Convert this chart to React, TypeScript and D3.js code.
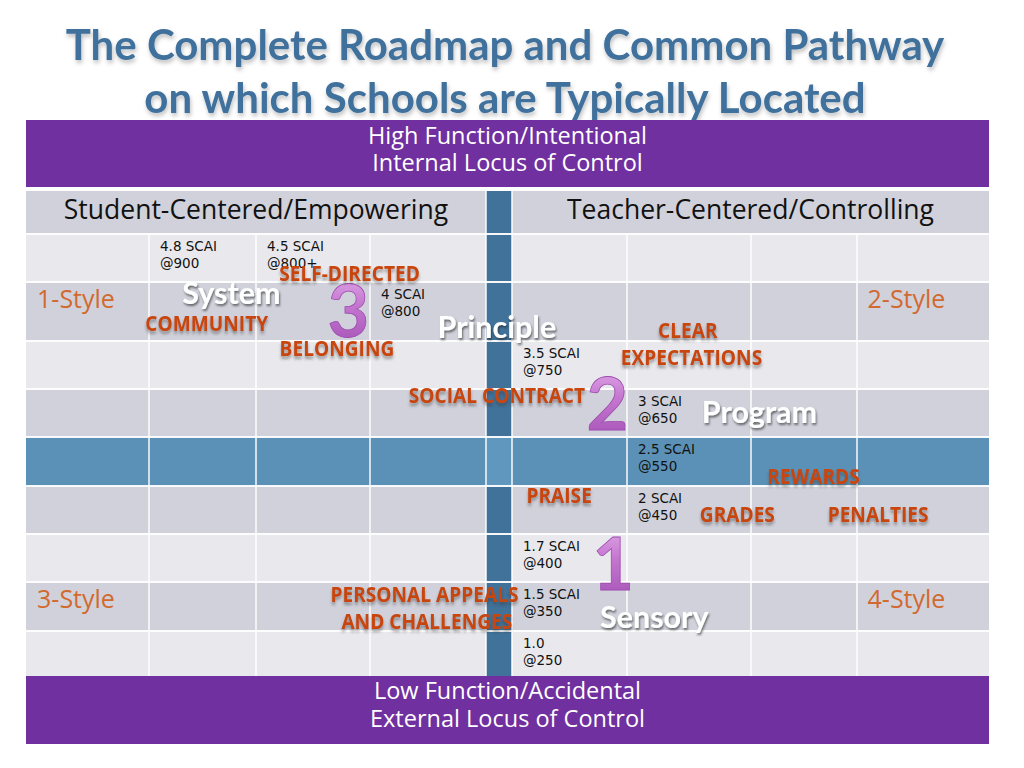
import React from 'react';
import * as d3 from 'd3';

// ---- text content ----
const titleLines = ['The Complete Roadmap and Common Pathway', 'on which Schools are Typically Located'];
const topBand = ['High Function/Intentional', 'Internal Locus of Control'];
const bottomBand = ['Low Function/Accidental', 'External Locus of Control'];
const sideHeaders = ['Student-Centered/Empowering', 'Teacher-Centered/Controlling'];

// row shading, top to bottom
const rowShades = ['light', 'dark', 'light', 'dark', 'blue', 'dark', 'light', 'dark', 'light'];

// SCAI score / target per cell (column, row in grid units)
const scaiScores = ['4.8 SCAI', '4.5 SCAI', '4 SCAI', '3.5 SCAI', '3 SCAI', '2.5 SCAI', '2 SCAI', '1.7 SCAI', '1.5 SCAI', '1.0'];
const scaiTargets = ['@900', '@800+', '@800', '@750', '@650', '@550', '@450', '@400', '@350', '@250'];
const scaiCols = [1, 2, 3, 5, 6, 6, 6, 5, 5, 5];
const scaiRows = [0, 0, 1, 2, 3, 4, 5, 6, 7, 8];

// quadrant styles
const styleNames = ['1-Style', '2-Style', '3-Style', '4-Style'];
const styleCols = [0.09, 8.08, 0.09, 8.08];
const styleRows = [1.29, 1.29, 7.35, 7.35];

// practices (orange words)
const practices = ['SELF-DIRECTED', 'COMMUNITY', 'BELONGING', 'SOCIAL CONTRACT', 'CLEAR', 'EXPECTATIONS',
  'PRAISE', 'REWARDS', 'GRADES', 'PENALTIES', 'PERSONAL APPEALS', 'AND CHALLENGES'];
const practiceCols = [2.82, 1.54, 2.71, 4.42, 6.49, 6.52, 5.41, 7.59, 6.89, 8.16, 3.47, 3.49];
const practiceRows = [0.81, 1.69, 2.15, 3.13, 1.81, 2.33, 5.19, 4.8, 5.58, 5.58, 7.24, 7.8];

// levels (white words)
const levels = ['System', 'Principle', 'Program', 'Sensory'];
const levelCols = [1.77, 4.42, 7.08, 6.22];
const levelRows = [1.19, 1.76, 3.48, 7.71];

// stage numerals
const stages = ['3', '2', '1'];
const stageCols = [2.81, 5.83, 5.88];
const stageRows = [1.49, 3.31, 6.63];

// ---- layout ----
const W = 1024;
const H = 768;
const colEdges = [26, 149, 256, 370, 486, 512, 627, 751, 857, 989];
const rowEdges = [234, 282, 341, 389, 437, 486, 534, 582, 631, 676];
const stripCol = 4;

const x = d3.scaleLinear().domain(d3.range(colEdges.length)).range(colEdges);
const y = d3.scaleLinear().domain(d3.range(rowEdges.length)).range(rowEdges);

const shadeColor: Record<string, string> = { light: '#e9e9ed', dark: '#d0d1da', blue: '#5b91b6' };
const PURPLE = '#7030a0';
const STRIP = '#41729a';
const ORANGE = '#c8450f';

const bodyFont = "'Open Sans', 'DejaVu Sans', sans-serif";
const boldFont = "'Open Sans', sans-serif";
const headFont = "Lato, 'Open Sans', sans-serif";

export default function App() {
  const left = colEdges[0];
  const right = colEdges[colEdges.length - 1];
  const cx = (left + right) / 2;
  const cols = d3.range(colEdges.length - 1);

  return (
    <svg width={W} height={H} style={{ position: 'absolute', left: 0, top: 0, background: '#fff' }}>
      <defs>
        <filter id="titleShadow" x="-5%" y="-20%" width="110%" height="150%">
          <feDropShadow dx="1" dy="3" stdDeviation="2" floodColor="#000" floodOpacity="0.25" />
        </filter>
        <filter id="wordShadow" x="-10%" y="-30%" width="120%" height="180%">
          <feDropShadow dx="0" dy="3" stdDeviation="1.6" floodColor="#333" floodOpacity="0.45" />
        </filter>
        <filter id="whiteShadow" x="-10%" y="-30%" width="120%" height="180%">
          <feDropShadow dx="1" dy="2" stdDeviation="1.2" floodColor="#222" floodOpacity="0.6" />
        </filter>
        <linearGradient id="numGrad" x1="0" y1="0" x2="0" y2="1">
          <stop offset="0%" stopColor="#e6b3ec" />
          <stop offset="45%" stopColor="#c577d0" />
          <stop offset="100%" stopColor="#a24fb4" />
        </linearGradient>
      </defs>

      {/* title */}
      {titleLines.map((t, i) => (
        <text key={t} x={505} y={60 + i * 53} textAnchor="middle" fontFamily={headFont}
          fontWeight="bold" fontSize={42} fill="#41719c" filter="url(#titleShadow)">{t}</text>
      ))}

      {/* top band */}
      <rect x={left} y={120} width={right - left} height={67} fill={PURPLE} />
      {topBand.map((t, i) => (
        <text key={t} x={cx} y={144 + i * 27} textAnchor="middle" fontFamily={bodyFont} fontSize={23.5} fill="#fff">{t}</text>
      ))}

      {/* header row */}
      <rect x={left} y={191} width={right - left} height={rowEdges[0] - 191} fill={shadeColor.dark} />
      <rect x={x(stripCol)} y={191} width={x(stripCol + 1) - x(stripCol)} height={rowEdges[0] - 191} fill={STRIP} />
      <text x={(left + x(stripCol)) / 2} y={219} textAnchor="middle" fontFamily={bodyFont} fontSize={26.5} fill="#111">{sideHeaders[0]}</text>
      <text x={(x(stripCol + 1) + right) / 2} y={219} textAnchor="middle" fontFamily={bodyFont} fontSize={26.5} fill="#111">{sideHeaders[1]}</text>

      {/* body cells */}
      {rowShades.map((s, r) => (
        <g key={r}>
          {cols.map((c) => (
            <rect key={c} x={x(c)} y={y(r)} width={x(c + 1) - x(c)} height={y(r + 1) - y(r)}
              fill={c === stripCol ? (s === 'blue' ? '#6097bf' : STRIP) : shadeColor[s]} />
          ))}
        </g>
      ))}

      {/* grid lines */}
      {colEdges.slice(1, -1).map((e) => (
        <line key={e} x1={e} x2={e} y1={rowEdges[0]} y2={rowEdges[rowEdges.length - 1]} stroke="#fff" strokeWidth={1.6} opacity={0.9} />
      ))}
      {[x(stripCol), x(stripCol + 1)].map((e) => (
        <line key={'h' + e} x1={e} x2={e} y1={191} y2={rowEdges[0]} stroke="#fff" strokeWidth={1.6} opacity={0.9} />
      ))}
      {rowEdges.slice(0, -1).map((e) => (
        <line key={e} x1={left} x2={right} y1={e} y2={e} stroke="#fff" strokeWidth={2} opacity={0.95} />
      ))}

      {/* bottom band */}
      <rect x={left} y={rowEdges[rowEdges.length - 1]} width={right - left} height={68} fill={PURPLE} />
      {bottomBand.map((t, i) => (
        <text key={t} x={cx} y={699 + i * 28} textAnchor="middle" fontFamily={bodyFont} fontSize={23.5} fill="#fff">{t}</text>
      ))}

      {/* style labels */}
      {styleNames.map((t, i) => (
        <text key={t} x={x(styleCols[i])} y={y(styleRows[i]) + 9} fontFamily={bodyFont} fontSize={25} fill="#d2692f">{t}</text>
      ))}

      {/* SCAI labels */}
      {scaiScores.map((t, i) => (
        <text key={t} x={x(scaiCols[i]) + 11} y={y(scaiRows[i]) + 17} fontFamily="'DejaVu Sans', sans-serif" fontSize={13.5} fill="#111">
          <tspan>{t}</tspan>
          <tspan x={x(scaiCols[i]) + 11} dy={17}>{scaiTargets[i]}</tspan>
        </text>
      ))}

      {/* numerals */}
      {stages.map((t, i) => (
        <text key={t} x={x(stageCols[i])} y={y(stageRows[i]) + 26} textAnchor="middle" fontFamily={headFont}
          fontWeight="bold" fontSize={72} fill="url(#numGrad)" stroke="#9d4cae" strokeWidth={0.8}>{t}</text>
      ))}

      {/* levels */}
      {levels.map((t, i) => (
        <text key={t} x={x(levelCols[i])} y={y(levelRows[i]) + 11} textAnchor="middle" fontFamily={headFont}
          fontWeight="bold" fontSize={30.5} fill="#fff" filter="url(#whiteShadow)">{t}</text>
      ))}

      {/* practices */}
      {practices.map((t, i) => (
        <g key={t} transform={`translate(${x(practiceCols[i])},${y(practiceRows[i]) + 8}) scale(0.87,1)`}>
          <text textAnchor="middle" fontFamily={boldFont} fontWeight="bold" fontSize={22} fill={ORANGE}
            filter="url(#wordShadow)">{t}</text>
        </g>
      ))}
    </svg>
  );
}
